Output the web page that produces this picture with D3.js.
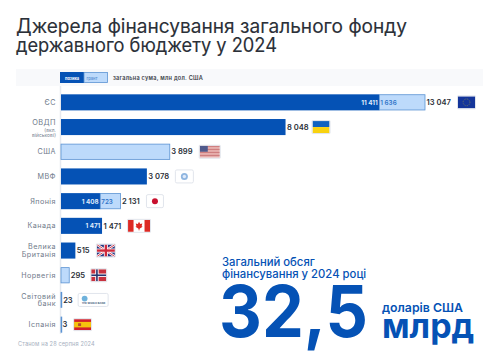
<!DOCTYPE html>
<html lang="uk"><head><meta charset="utf-8">
<script src="https://cdn.jsdelivr.net/npm/d3@7/dist/d3.min.js"></script>
<style>html,body{margin:0;padding:0;background:#fff}svg{display:block}text{font-family:Inter,"Noto Sans",sans-serif}</style>
</head><body><div id="c"></div>
<script>
const titleLines=["Джерела фінансування загального фонду","державного бюджету у 2024"];
const categories=["ЄС","ОВДП","США","МВФ","Японія","Канада","Велика Британія","Норвегія","Світовий банк","Іспанія"];
const loans=[11411,8048,0,3078,1408,1471,515,0,0,0];
const grants=[1636,0,3899,0,723,0,0,295,23,3];
const flagCodes=["eu","ua","us","imf","jp","ca","uk","no","wb","es"];
const W=498,H=354,blue="#0552b5",light="#bddafb",edge="#5b93d3",ink="#2b3038",grey="#6f7a8a";
const svg=d3.select("#c").append("svg").attr("width",W).attr("height",H);
const x=d3.scaleLinear().domain([0,13047]).range([61,425]);
const y=d3.scaleBand().domain(categories).range([90,337]).paddingInner(.35).paddingOuter(.175);
const rows=categories.map((c,i)=>({c,loan:loans[i],grant:grants[i],total:loans[i]+grants[i],flag:flagCodes[i]}));
const fmt=v=>d3.format(",")(v).replace(/,/g," ");
const titleWidths=[391,261];
svg.selectAll("text.t").data(titleLines).join("text").attr("x",16).attr("y",(d,i)=>33+i*19.2)
 .attr("font-size",19.5).attr("font-weight",400).attr("fill",ink).attr("stroke",ink).attr("stroke-width",.12)
 .attr("textLength",(d,i)=>titleWidths[i]).attr("lengthAdjust","spacingAndGlyphs").text(d=>d);
svg.append("rect").attr("x",16).attr("y",69).attr("width",467).attr("height",17).attr("fill","#f8f9fb");
svg.append("rect").attr("x",60).attr("y",72).attr("width",24).attr("height",11).attr("fill",blue);
svg.append("rect").attr("x",84).attr("y",72.5).attr("width",23.5).attr("height",10).attr("fill",light).attr("stroke",edge).attr("stroke-width",.8);
svg.append("text").attr("x",72).attr("y",79.5).attr("text-anchor","middle").attr("font-size",4).attr("font-weight",700).attr("fill","#fff").text("позика");
svg.append("text").attr("x",92).attr("y",79.5).attr("text-anchor","middle").attr("font-size",4).attr("font-weight",600).attr("fill",edge).text("грант");
svg.append("text").attr("x",113).attr("y",79.6).attr("font-size",5.6).attr("font-weight",600).attr("letter-spacing",.25).attr("fill","#3a4048").text("загальна сума, млн дол. США");
svg.append("line").attr("x1",60.5).attr("x2",60.5).attr("y1",86).attr("y2",334).attr("stroke","#e6e9ef").attr("stroke-width",1.5);
const labelLines={"ОВДП":[["ОВДП",7.4,0],["(вкл.",4.8,6.5],["військові)",4.8,12]],"Велика Британія":[["Велика",7.2,-3.7],["Британія",7.2,3.9]],"Світовий банк":[["Світовий",7.2,-3.7],["банк",7.2,3.9]]};
const gy=svg.append("g");
rows.forEach(r=>{
 const cy=y(r.c)+y.bandwidth()/2;
 const lines=labelLines[r.c]||[[r.c,7.2,0]];
 const off=r.c==="ОВДП"?-4:0;
 lines.forEach(l=>gy.append("text").attr("x",56).attr("y",cy+off+l[2]+2.4).attr("text-anchor","end").attr("font-size",l[1]).attr("letter-spacing",l[1]>5?.45:.1).attr("fill",grey).text(l[0]));
});
const g=svg.selectAll("g.row").data(rows).join("g").attr("class","row").attr("transform",d=>`translate(0,${y(d.c)})`);
const h=y.bandwidth();
g.filter(d=>d.loan>0).append("rect").attr("x",x(0)).attr("y",0).attr("height",h).attr("width",d=>x(d.loan)-x(0)).attr("fill",blue);
g.filter(d=>d.grant>0).append("rect").attr("x",d=>x(d.loan)).attr("y",.4).attr("height",h-.8).attr("width",d=>Math.max(x(d.loan+d.grant)-x(d.loan),.8)).attr("fill",light).attr("stroke",edge).attr("stroke-width",.8);
g.filter(d=>d.loan>1000&&d.loan<8000&&d.c!=="МВФ"||d.c==="ЄС").append("text").attr("x",d=>x(d.loan)-1.7).attr("y",h/2+2.4).attr("text-anchor","end").attr("font-size",6.3).attr("font-weight",700).attr("fill","#dfeafb").text(d=>fmt(d.loan));
g.filter(d=>d.loan>0&&d.grant>500).append("text").attr("x",d=>x(d.loan)+1).attr("y",h/2+2.4).attr("font-size",6.3).attr("font-weight",600).attr("fill","#2f74c8").text(d=>fmt(d.grant));
g.append("text").attr("x",d=>x(d.total)+1.5).attr("y",h/2+2.7).attr("font-size",7.6).attr("font-weight",600).attr("fill",ink).text(d=>fmt(d.total));
const flagGap={eu:33,ua:27,us:30,imf:29,jp:26.5,ca:26,uk:21.5,no:22,wb:17,es:13};
const flagW={eu:17,ua:17,us:20,imf:17,jp:16,ca:22,uk:18,no:15,wb:29,es:17};
const flagH={eu:12,ua:12,us:12,imf:12,jp:12,ca:12,uk:12,no:12,wb:12,es:11};
function flag(s,c,w,h){
 const R=(a,b,ww,hh,f)=>s.append("rect").attr("x",a).attr("y",b).attr("width",ww).attr("height",hh).attr("fill",f);
 const frame="#e1e5ec";
 if(c==="eu"){R(0,0,w,h,"#14359a");s.append("circle").attr("cx",w/2).attr("cy",h/2).attr("r",3.4).attr("fill","none").attr("stroke","#8d8f4a").attr("stroke-width",.6).attr("stroke-dasharray","1 .8");}
 if(c==="ua"){R(0,0,w,h/2,"#0f62c0");R(0,h/2,w,h/2,"#f8d210");}
 if(c==="us"){R(0,0,w,h,"#eab7b4");for(let i=0;i<4;i++)R(0,i*3,w,1.4,"#cf7f80");R(0,0,8,6,"#505a8c");}
 if(c==="imf"){R(0,0,w,h,"#fff");s.append("circle").attr("cx",w/2).attr("cy",h/2).attr("r",3.5).attr("fill","#8fb6e0");s.append("circle").attr("cx",w/2).attr("cy",h/2).attr("r",1.7).attr("fill","#dfeafa");}
 if(c==="jp"){R(0,0,w,h,"#fff");s.append("circle").attr("cx",w/2).attr("cy",h/2).attr("r",3).attr("fill","#c8102e");}
 if(c==="ca"){R(0,0,w,h,"#fff");R(0,0,5.5,h,"#dd2a24");R(w-5.5,0,5.5,h,"#dd2a24");s.append("path").attr("transform",`translate(${w/2},${h/2})`).attr("d","M0-4L1.2-1.8 3.3-2.4 2.6 .3 3.6 1 0 3.2-3.6 1-2.6 .3-3.3-2.4-1.2-1.8Z").attr("fill","#dd2a24");R(w/2-.4,2+h/2,.8,2.5,"#dd2a24");}
 if(c==="uk"){R(0,0,w,h,"#29357f");[[0,0,w,h],[0,h,w,0]].forEach(p=>{s.append("line").attr("x1",p[0]).attr("y1",p[1]).attr("x2",p[2]).attr("y2",p[3]).attr("stroke","#fff").attr("stroke-width",2.4);s.append("line").attr("x1",p[0]).attr("y1",p[1]).attr("x2",p[2]).attr("y2",p[3]).attr("stroke","#cf2a3d").attr("stroke-width",.9);});R(w/2-2,0,4,h,"#fff");R(0,h/2-2,w,4,"#fff");R(w/2-1.2,0,2.4,h,"#cf2a3d");R(0,h/2-1.2,w,2.4,"#cf2a3d");}
 if(c==="no"){R(0,0,w,h,"#c8323f");R(4,0,3.4,h,"#fff");R(0,h/2-1.7,w,3.4,"#fff");R(4.9,0,1.6,h,"#27356f");R(0,h/2-.8,w,1.6,"#27356f");}
 if(c==="wb"){R(0,0,w,h,"#fff");s.append("circle").attr("cx",6).attr("cy",4.6).attr("r",2.9).attr("fill","#6fb2dc");s.append("text").attr("x",3).attr("y",9.8).attr("font-size",2.6).attr("font-weight",700).attr("fill","#45617f").text("THE WORLD BANK");}
 if(c==="es"){R(0,0,w,h,"#d3202b");R(0,h/4,w,h/2,"#f6c40d");R(4,h/2-1.4,3,2.8,"#b5502a");}
 s.append("rect").attr("x",-.5).attr("y",-.5).attr("width",w+1).attr("height",h+1).attr("rx",c==="imf"||c==="wb"||c==="jp"?1.5:.5).attr("fill","none").attr("stroke",frame).attr("stroke-width",1);
}
g.each(function(d){
 const s=d3.select(this).append("g").attr("transform",`translate(${x(d.total)+flagGap[d.flag]},${(h-flagH[d.flag])/2})`);
 flag(s,d.flag,flagW[d.flag],flagH[d.flag]);
});
svg.append("text").attr("x",18).attr("y",346).attr("font-size",5.6).attr("letter-spacing",.12).attr("fill","#a6b0c0").text("Станом на 28 серпня 2024");
const T=(px,py,fs,fw,t)=>svg.append("text").attr("x",px).attr("y",py).attr("font-size",fs).attr("font-weight",fw).attr("fill",blue).text(t);
T(222,266,11.3,500,"Загальний обсяг");
T(222,277.5,11.3,500,"фінансування у 2024 році");
T(219,337,71,700,"32,5").attr("textLength",149).attr("lengthAdjust","spacingAndGlyphs");
T(382,311.7,12.3,600,"доларів США");
T(382,337.7,34,700,"млрд");
</script></body></html>
